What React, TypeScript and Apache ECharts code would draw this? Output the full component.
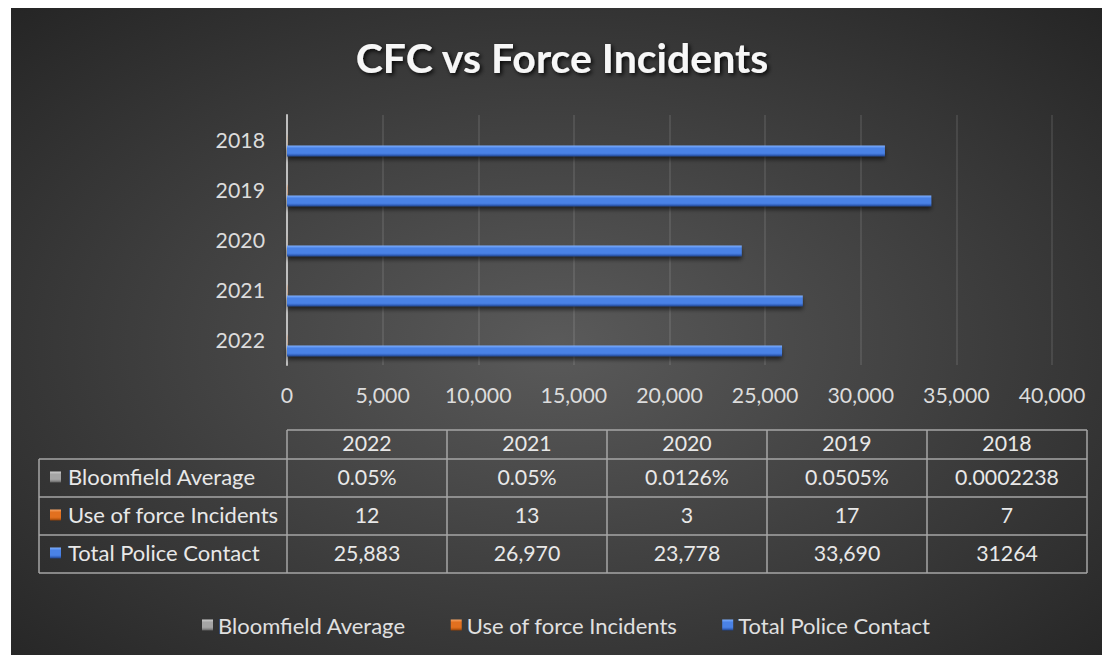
import React, { useEffect, useRef } from "react";
import * as echarts from "echarts";

const TITLE = "CFC vs Force Incidents";
const categories = ["2022", "2021", "2020", "2019", "2018"];
const seriesNames = ["Bloomfield Average", "Use of force Incidents", "Total Police Contact"];
const bloomfieldAverage = [0.0005, 0.0005, 0.000126, 0.000505, 0.0002238];
const bloomfieldLabels = ["0.05%", "0.05%", "0.0126%", "0.0505%", "0.0002238"];
const useOfForce = [12, 13, 3, 17, 7];
const useOfForceLabels = ["12", "13", "3", "17", "7"];
const totalPoliceContact = [25883, 26970, 23778, 33690, 31264];
const totalPoliceLabels = ["25,883", "26,970", "23,778", "33,690", "31264"];

const FONT = "Lato, 'Noto Sans', sans-serif";

const grad = (top: string, mid: string, low: string, bottom: string) =>
  new echarts.graphic.LinearGradient(0, 0, 0, 1, [
    { offset: 0, color: top },
    { offset: 0.25, color: mid },
    { offset: 0.7, color: mid },
    { offset: 0.85, color: low },
    { offset: 1, color: bottom },
  ]);

const seriesColors = [
  () => grad("#d0d0d0", "#a5a5a5", "#8a8a8a", "#5e5e5e"),
  () => grad("#f7a667", "#e2701f", "#c45d12", "#8a3f0a"),
  () => grad("#7fb0ff", "#4a82e6", "#3566c4", "#1f3f80"),
];

export default function App() {
  const ref = useRef<HTMLDivElement>(null);
  useEffect(() => {
    if (!ref.current) return;
    const chart = echarts.init(ref.current, undefined, { renderer: "svg" });

    const colX0 = 276;
    const colW = 160;
    const labelX0 = 28;
    const rowTops = [422, 451, 489, 527, 565];
    const lineColor = "#a6a6a6";
    const textColor = "#e8e8e8";
    const fsLabel = 22;
    const fsVal = 21.3;
    const graphics: any[] = [];
    const nCols = categories.length;
    const right = colX0 + colW * nCols;

    graphics.push({ type: "line", shape: { x1: colX0, y1: rowTops[0], x2: right, y2: rowTops[0] }, style: { stroke: lineColor, lineWidth: 1.5 } });
    for (let r = 1; r < rowTops.length; r++) {
      graphics.push({ type: "line", shape: { x1: labelX0, y1: rowTops[r], x2: right, y2: rowTops[r] }, style: { stroke: lineColor, lineWidth: 1.5 } });
    }
    graphics.push({ type: "line", shape: { x1: labelX0, y1: rowTops[1], x2: labelX0, y2: rowTops[4] }, style: { stroke: lineColor, lineWidth: 1.5 } });
    for (let c = 0; c <= nCols; c++) {
      const x = colX0 + c * colW;
      graphics.push({ type: "line", shape: { x1: x, y1: rowTops[0], x2: x, y2: rowTops[4] }, style: { stroke: lineColor, lineWidth: 1.5 } });
    }
    categories.forEach((cat, i) => {
      graphics.push({
        type: "text",
        x: colX0 + colW * i + colW / 2,
        y: (rowTops[0] + rowTops[1]) / 2 - 2,
        style: { text: cat, fill: textColor, font: `${fsVal}px ${FONT}`, align: "center", verticalAlign: "middle" },
      });
    });
    const rowLabels = [bloomfieldLabels, useOfForceLabels, totalPoliceLabels];
    seriesNames.forEach((name, r) => {
      const cy = (rowTops[r + 1] + rowTops[r + 2]) / 2 - 1.5;
      graphics.push({
        type: "rect",
        shape: { x: 39, y: cy - 5, width: 11, height: 11 },
        style: { fill: seriesColors[r]() },
      });
      graphics.push({
        type: "text",
        x: 57,
        y: cy,
        style: { text: name, fill: textColor, font: `${fsLabel}px ${FONT}`, align: "left", verticalAlign: "middle" },
      });
      rowLabels[r].forEach((v, i) => {
        graphics.push({
          type: "text",
          x: colX0 + colW * i + colW / 2,
          y: cy,
          style: { text: v, fill: textColor, font: `${fsVal}px ${FONT}`, align: "center", verticalAlign: "middle" },
        });
      });
    });

    const values = [bloomfieldAverage, useOfForce, totalPoliceContact];

    chart.setOption({
      animation: false,
      backgroundColor: new echarts.graphic.RadialGradient(0.5, 0.52, 0.72, [
        { offset: 0, color: "#5a5a5a" },
        { offset: 0.6, color: "#3a3a3a" },
        { offset: 1, color: "#252525" },
      ]),
      textStyle: { fontFamily: FONT },
      title: {
        text: TITLE,
        left: 546,
        textAlign: "center",
        top: 24,
        textStyle: {
          color: "#f7f7f7",
          fontSize: 41,
          fontWeight: "bold",
          fontFamily: FONT,
          textShadowColor: "rgba(0,0,0,0.85)",
          textShadowBlur: 4,
          textShadowOffsetX: 2,
          textShadowOffsetY: 2,
        },
      },
      legend: {
        data: seriesNames,
        left: 186,
        top: 601,
        itemWidth: 11,
        itemHeight: 11,
        itemGap: 45,
        icon: "rect",
        textStyle: { color: "#e0e0e0", fontSize: fsLabel, fontFamily: FONT },
      },
      grid: { left: 276, top: 107, width: 765, height: 250, containLabel: false },
      xAxis: {
        type: "value",
        min: 0,
        max: 40000,
        interval: 5000,
        axisLine: { show: false },
        axisTick: { show: false },
        axisLabel: { color: "#dcdcdc", fontSize: fsVal, fontFamily: FONT, margin: 19 },
        splitLine: { show: true, lineStyle: { color: "rgba(255,255,255,0.13)", width: 1.5 } },
      },
      yAxis: {
        type: "category",
        data: categories,
        axisLine: { show: true, lineStyle: { color: "#bfbfbf", width: 2 } },
        axisTick: { show: false },
        axisLabel: { color: "#dcdcdc", fontSize: fsVal, fontFamily: FONT, margin: 22 },
        splitLine: { show: false },
      },
      series: seriesNames.map((name, i) => ({
        name,
        type: "bar",
        data: values[i],
        barWidth: 11,
        barGap: "0%",
        itemStyle: {
          color: seriesColors[i](),
          shadowColor: "rgba(0,0,0,0.55)",
          shadowBlur: 4,
          shadowOffsetY: 3,
        },
      })),
      graphic: graphics,
    });
    return () => chart.dispose();
  }, []);
  return (
    <div
      ref={ref}
      style={{ position: "absolute", left: 11, top: 8, width: 1091, height: 647 }}
    />
  );
}
